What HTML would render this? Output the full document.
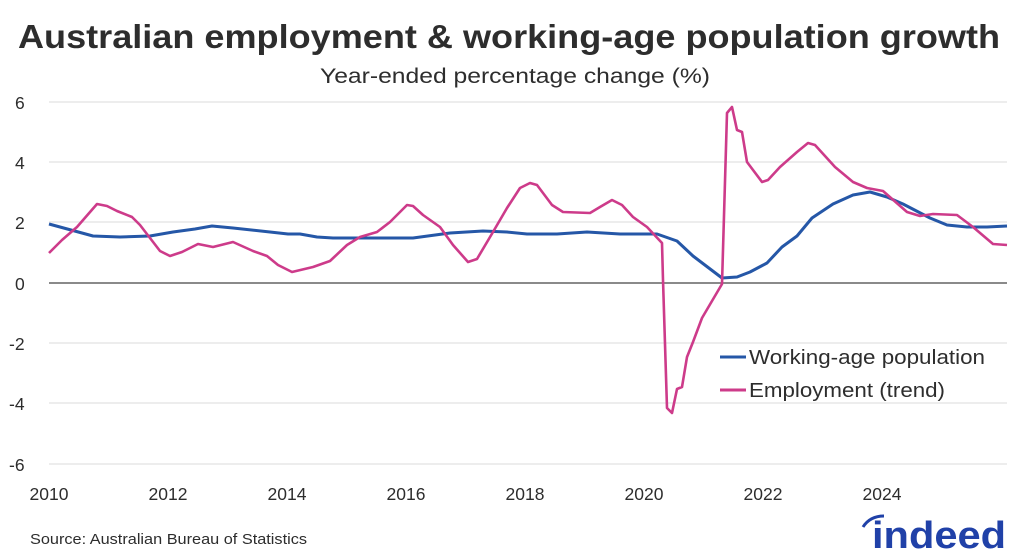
<!DOCTYPE html>
<html><head><meta charset="utf-8"><style>
html,body{margin:0;padding:0;background:#fff;}
svg{display:block;font-family:"Liberation Sans",sans-serif;}
</style></head><body>
<svg width="1024" height="558" viewBox="0 0 1024 558" xmlns="http://www.w3.org/2000/svg">
<rect width="1024" height="558" fill="#fff"/>
<text x="18" y="48" font-size="33" font-weight="bold" fill="#2d2d2d" textLength="982" lengthAdjust="spacingAndGlyphs">Australian employment &amp; working-age population growth</text>
<text x="320" y="83" font-size="21" fill="#2d2d2d" textLength="390" lengthAdjust="spacingAndGlyphs">Year-ended percentage change (%)</text>
<g stroke="#e2e2e2" stroke-width="1.3">
<line x1="49" y1="102" x2="1007" y2="102"/><line x1="49" y1="162" x2="1007" y2="162"/><line x1="49" y1="222" x2="1007" y2="222"/>
<line x1="49" y1="343" x2="1007" y2="343"/><line x1="49" y1="403" x2="1007" y2="403"/><line x1="49" y1="464" x2="1007" y2="464"/>
</g>
<line x1="49" y1="283" x2="1007" y2="283" stroke="#444" stroke-width="1.3"/>
<g font-size="17.5" fill="#2d2d2d">
<text x="15" y="109">6</text><text x="15" y="169">4</text><text x="15" y="229">2</text><text x="15" y="290">0</text>
<text x="9" y="350">-2</text><text x="9" y="410">-4</text><text x="9" y="471">-6</text>
</g>
<g font-size="17.5" fill="#2d2d2d" text-anchor="middle">
<text x="49" y="500">2010</text><text x="168" y="500">2012</text><text x="287" y="500">2014</text><text x="406" y="500">2016</text>
<text x="525" y="500">2018</text><text x="644" y="500">2020</text><text x="763" y="500">2022</text><text x="882" y="500">2024</text>
</g>
<polyline fill="none" stroke="#2557a7" stroke-width="3" stroke-linejoin="round" points="49,224 93,236 120,237 150,236 173,232 195,229 212,226 233,228 270,232 288,234 300,234 317,237 333,238 413,238 450,233 483,231 507,232 527,234 557,234 587,232 620,234 657,234 677,241 693,256 722,278 737,277 750,272 767,263 782,247 797,236 812,218 833,204 853,195 870,192 887,197 903,204 930,218 947,225 967,227 987,227 1007,226"/>
<polyline fill="none" stroke="#cd3b8a" stroke-width="2.6" stroke-linejoin="round" points="49,253 62,240 77,227 97,204 107,206 117,211 132,217 140,225 160,251 170,256 182,252 198,244 213,247 233,242 253,251 267,256 278,265 292,272 313,267 330,261 347,245 360,237 377,232 390,222 407,205 413,206 423,215 440,227 453,245 468,262 477,259 493,232 507,208 520,188 530,183 537,185 552,205 563,212 590,213 600,207 612,200 622,205 633,217 647,227 662,243 663,280 667,408 672,413 677,389 682,387 687,357 693,342 702,318 722,284 727,113 732,107 737,130 742,132 747,162 762,182 768,180 780,167 797,152 808,143 815,145 835,167 853,182 867,188 883,191 907,212 920,216 933,214 957,215 973,227 993,244 1007,245"/>
<line x1="720" y1="357" x2="746" y2="357" stroke="#2557a7" stroke-width="3"/>
<line x1="720" y1="390" x2="746" y2="390" stroke="#cd3b8a" stroke-width="3"/>
<g font-size="20" fill="#2d2d2d">
<text x="749" y="364" textLength="236" lengthAdjust="spacingAndGlyphs">Working-age population</text>
<text x="749" y="397" textLength="196" lengthAdjust="spacingAndGlyphs">Employment (trend)</text>
</g>
<text x="30" y="544" font-size="15" fill="#2d2d2d" textLength="277" lengthAdjust="spacingAndGlyphs">Source: Australian Bureau of Statistics</text>
<text x="872" y="548" font-size="38" font-weight="bold" fill="#2041a8" textLength="134" lengthAdjust="spacingAndGlyphs">indeed</text>
<path d="M863,527 Q870,516 884,516" fill="none" stroke="#2041a8" stroke-width="3"/>
</svg>
</body></html>
